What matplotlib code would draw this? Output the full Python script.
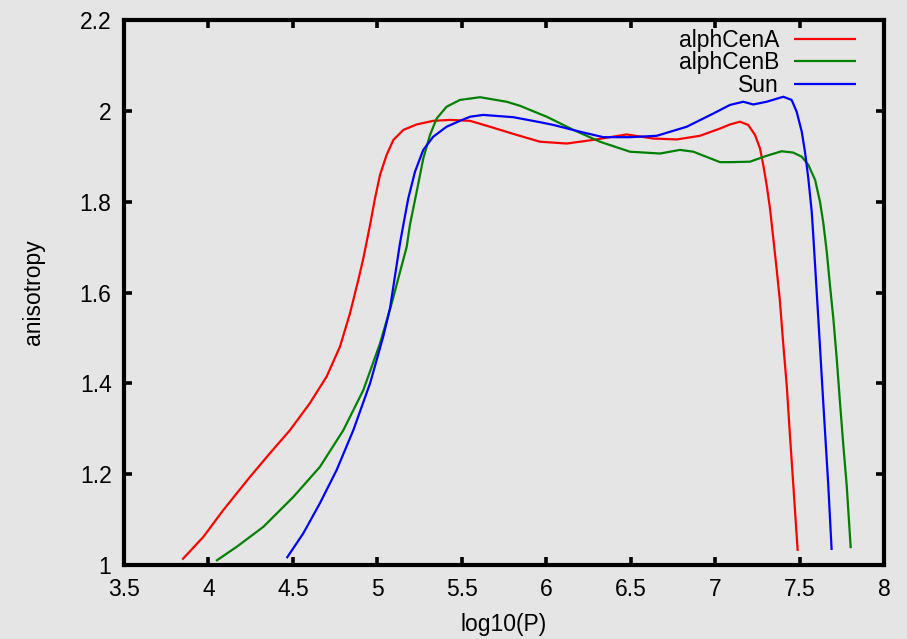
import matplotlib
matplotlib.use("Agg")
import matplotlib.pyplot as plt

# ---- data ----
a_x = [3.845, 3.97, 4.088, 4.246, 4.364, 4.483, 4.60, 4.70, 4.779, 4.838, 4.887, 4.917,
       4.957, 4.986, 5.016, 5.055, 5.095, 5.154, 5.233, 5.331, 5.43, 5.549, 5.667, 5.825,
       5.963, 6.121, 6.279, 6.476, 6.634, 6.772, 6.91, 7.029, 7.088, 7.147, 7.196, 7.236,
       7.266, 7.285, 7.305, 7.325, 7.364, 7.384, 7.404, 7.424, 7.443, 7.463, 7.489]
a_y = [1.012, 1.062, 1.121, 1.194, 1.246, 1.297, 1.356, 1.415, 1.481, 1.554, 1.627, 1.675,
       1.749, 1.807, 1.859, 1.903, 1.936, 1.958, 1.970, 1.978, 1.980, 1.978, 1.965, 1.947,
       1.932, 1.928, 1.936, 1.948, 1.939, 1.937, 1.945, 1.961, 1.970, 1.976, 1.969, 1.947,
       1.917, 1.881, 1.837, 1.785, 1.653, 1.580, 1.484, 1.396, 1.286, 1.176, 1.031]

b_x = [4.045, 4.167, 4.325, 4.503, 4.660, 4.799, 4.917, 5.016, 5.085, 5.174, 5.193, 5.233,
       5.272, 5.312, 5.351, 5.410, 5.489, 5.549, 5.608, 5.766, 5.845, 6.003, 6.161, 6.318,
       6.496, 6.674, 6.792, 6.871, 7.029, 7.088, 7.206, 7.305, 7.394, 7.463, 7.513, 7.552,
       7.592, 7.621, 7.640, 7.661, 7.680, 7.700, 7.720, 7.739, 7.759, 7.779, 7.803]
b_y = [1.009, 1.040, 1.084, 1.150, 1.216, 1.297, 1.385, 1.488, 1.576, 1.701, 1.749, 1.822,
       1.895, 1.947, 1.983, 2.009, 2.024, 2.027, 2.030, 2.020, 2.011, 1.987, 1.958, 1.932,
       1.910, 1.906, 1.914, 1.910, 1.887, 1.887, 1.888, 1.901, 1.911, 1.908, 1.899, 1.881,
       1.848, 1.800, 1.755, 1.690, 1.616, 1.543, 1.455, 1.360, 1.264, 1.176, 1.037]

s_x = [4.463, 4.562, 4.660, 4.759, 4.858, 4.957, 5.035, 5.075, 5.134, 5.154, 5.183, 5.223,
       5.272, 5.331, 5.410, 5.489, 5.549, 5.627, 5.805, 5.963, 6.042, 6.200, 6.338, 6.496,
       6.654, 6.832, 6.989, 7.088, 7.167, 7.226, 7.305, 7.404, 7.453, 7.483, 7.513, 7.532,
       7.552, 7.572, 7.581, 7.611, 7.640, 7.670, 7.690]
s_y = [1.015, 1.070, 1.136, 1.209, 1.297, 1.400, 1.503, 1.565, 1.708, 1.749, 1.807, 1.866,
       1.914, 1.943, 1.965, 1.978, 1.987, 1.991, 1.986, 1.975, 1.969, 1.954, 1.942, 1.942,
       1.945, 1.965, 1.994, 2.013, 2.020, 2.014, 2.020, 2.031, 2.024, 1.998, 1.954, 1.910,
       1.851, 1.778, 1.727, 1.543, 1.360, 1.176, 1.033]

labels = ["alphCenA", "alphCenB", "Sun"]
colors = ["#ff0000", "#008000", "#0000ff"]
x_ticks = [3.5, 4, 4.5, 5, 5.5, 6, 6.5, 7, 7.5, 8]
x_ticklabels = ["3.5", "4", "4.5", "5", "5.5", "6", "6.5", "7", "7.5", "8"]
y_ticks = [1, 1.2, 1.4, 1.6, 1.8, 2, 2.2]
y_ticklabels = ["1", "1.2", "1.4", "1.6", "1.8", "2", "2.2"]

FS = 16.5
plt.rcParams['font.family'] = ['Liberation Sans', 'DejaVu Sans']
plt.rcParams['font.size'] = FS

bg = "#e5e5e5"
fig = plt.figure(figsize=(9.07, 6.39), dpi=100, facecolor=bg)
ax = fig.add_axes([124/907, 1-565/639, (884-124)/907, (565-20)/639])
ax.set_facecolor(bg)

for xs, ys, lab, c in zip([a_x, b_x, s_x], [a_y, b_y, s_y], labels, colors):
    ax.plot(xs, ys, color=c, lw=1.6, label=lab,
            solid_joinstyle='round', solid_capstyle='butt')

ax.set_xlim(3.5, 8)
ax.set_ylim(1, 2.2)
ax.set_xticks(x_ticks)
ax.set_xticklabels(x_ticklabels)
ax.set_yticks(y_ticks)
ax.set_yticklabels(y_ticklabels)
for sp in ax.spines.values():
    sp.set_linewidth(3)
ax.tick_params(direction='in', length=6, width=2.6, top=True, right=True,
               labelsize=FS, colors='black')
ax.tick_params(axis='x', pad=9)
ax.tick_params(axis='y', pad=9)
ax.set_xlabel("log10(P)", fontsize=FS, labelpad=9)
ax.set_ylabel("anisotropy", fontsize=FS, labelpad=25)

leg = ax.legend(loc='upper right', bbox_to_anchor=(0.981, 1.008), frameon=False,
                markerfirst=False, handlelength=2.7, handletextpad=0.65,
                labelspacing=-0.04, fontsize=FS, borderaxespad=0.2)

fig.savefig("out.png", dpi=100, facecolor=bg)
